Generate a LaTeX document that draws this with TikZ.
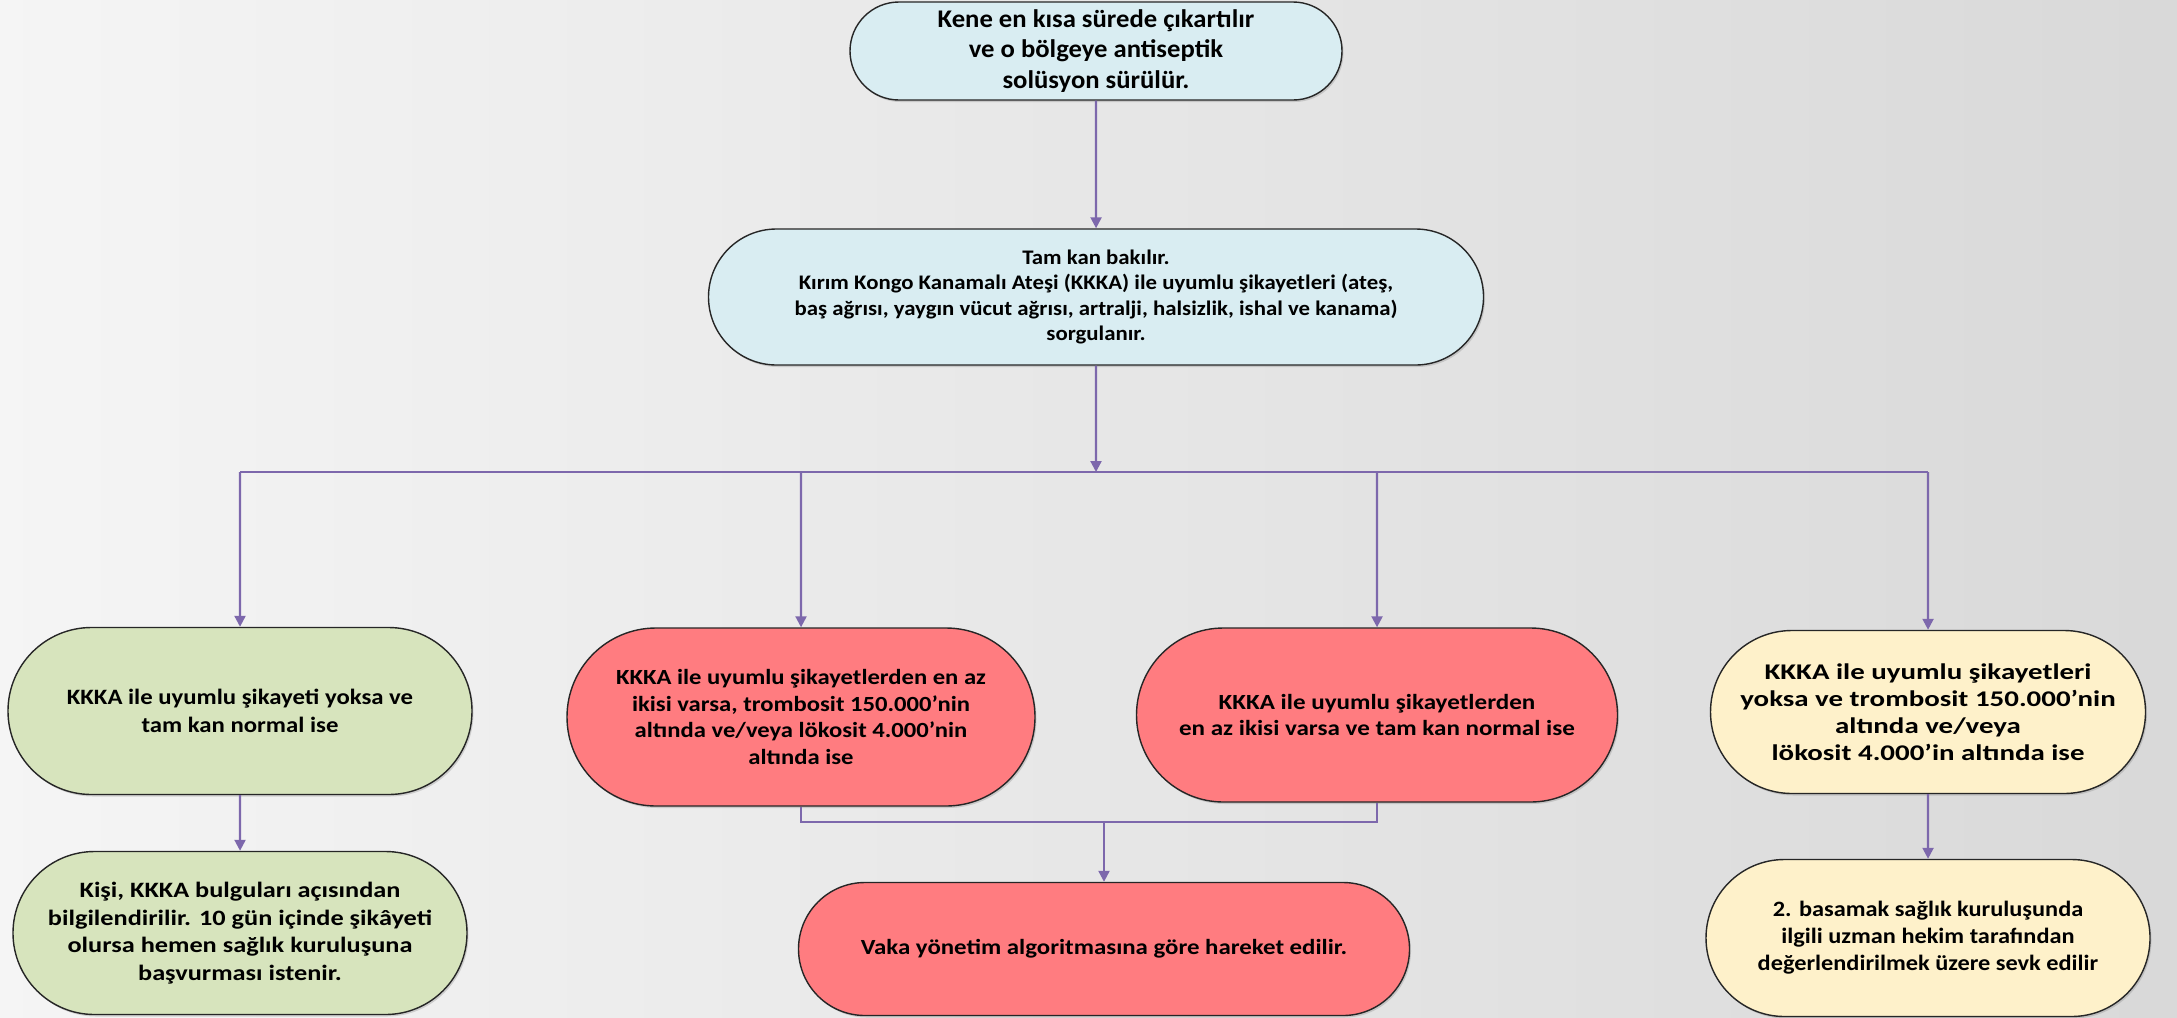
\documentclass[tikz,border=0pt]{standalone}
\usepackage{fontspec}
\setmainfont{Carlito}
\usetikzlibrary{shapes.misc,shadows,arrows.meta}

\definecolor{bluebox}{HTML}{D9EDF2}
\definecolor{greenbox}{HTML}{D7E4BD}
\definecolor{redbox}{HTML}{FF7C80}
\definecolor{yellowbox}{HTML}{FEF1CA}
\definecolor{linkcol}{HTML}{7D68AC}

\tikzset{
  term/.style={rounded rectangle, draw=black!85, line width=1.4bp, align=center,
    inner sep=0pt,
    drop shadow={shadow xshift=1.5bp, shadow yshift=-2bp, opacity=.3}},
  yazi/.style n args={3}{font=\bfseries\addfontfeatures{FakeStretch=#3}\fontsize{#1}{#2}\selectfont},
  link/.style={draw=linkcol, line width=2.2bp},
  arr/.style={link, -{Triangle[length=11bp,width=11bp]}}
}

\begin{document}
\begin{tikzpicture}[x=1bp, y=-1bp]
    \useasboundingbox (0,0) rectangle (2177,1017);
    \shade[left color=black!4, right color=black!15] (0,0) rectangle (2177,1017);

    % ust kutular
    \node[term, fill=bluebox, minimum width=492bp, minimum height=98bp,
          yazi={25.5}{31}{1.05}] (kene) at (1096,51)
        {Kene en kısa sürede çıkartılır\\ ve o bölgeye antiseptik\\ solüsyon sürülür.};
    \node[term, fill=bluebox, minimum width=775bp, minimum height=136bp,
          yazi={20.8}{25.4}{1.1}] (tamkan) at (1096,297)
        {Tam kan bakılır.\\ Kırım Kongo Kanamalı Ateşi (KKKA) ile uyumlu şikayetleri (ateş,\\
         baş ağrısı, yaygın vücut ağrısı, artralji, halsizlik, ishal ve kanama)\\ sorgulanır.};

    % orta sira
    \node[term, fill=greenbox, minimum width=464bp, minimum height=167bp,
          yazi={22}{28}{1.13}] (yok) at (240,711)
        {KKKA ile uyumlu şikayeti yoksa ve\\ tam kan normal ise};
    \node[term, fill=redbox, minimum width=468bp, minimum height=178bp,
          yazi={21.7}{26.5}{1.14}] (ikitrom) at (801,717)
        {KKKA ile uyumlu şikayetlerden en az\\ ikisi varsa, trombosit 150.000’nin\\
         altında ve/veya lökosit 4.000’nin\\ altında ise};
    \node[term, fill=redbox, minimum width=481bp, minimum height=174bp,
          yazi={21.7}{26.5}{1.16}] (ikinormal) at (1377,715)
        {KKKA ile uyumlu şikayetlerden\\ en az ikisi varsa ve tam kan normal ise};
    \node[term, fill=yellowbox, minimum width=435bp, minimum height=163bp,
          yazi={22.5}{27}{1.29}] (yoktrom) at (1928,712)
        {KKKA ile uyumlu şikayetleri\\ yoksa ve trombosit 150.000’nin\\
         altında ve/veya\\ lökosit 4.000’in altında ise};

    % alt sira
    \node[term, fill=greenbox, minimum width=454bp, minimum height=163bp,
          yazi={22}{27.8}{1.2}] (bilgi) at (240,933)
        {Kişi, KKKA bulguları açısından\\ bilgilendirilir. 10 gün içinde şikâyeti\\
         olursa hemen sağlık kuruluşuna\\ başvurması istenir.};
    \node[term, fill=redbox, minimum width=611bp, minimum height=133bp,
          yazi={21.7}{26.5}{1.15}] (vaka) at (1104,949)
        {Vaka yönetim algoritmasına göre hareket edilir.};
    \node[term, fill=yellowbox, minimum width=444bp, minimum height=157bp,
          yazi={22}{27}{1.11}] (sevk) at (1928,938)
        {2. basamak sağlık kuruluşunda\\ ilgili uzman hekim tarafından\\
         değerlendirilmek üzere sevk edilir};

    % baglantilar
    \coordinate (bus) at (1096,472);
    \coordinate (birles) at (1104,822);
    \draw[arr] (kene) -- (tamkan);
    \draw[arr] (tamkan) -- (bus);
    \draw[link] (yok.north |- bus) -- (yoktrom.north |- bus);
    \foreach \n in {yok,ikitrom,ikinormal,yoktrom}
        \draw[arr] (\n.north |- bus) -- (\n);
    \draw[arr] (yok) -- (bilgi);
    \draw[arr] (yoktrom) -- (sevk);
    \draw[link] (ikitrom.south) |- (birles) -| (ikinormal.south);
    \draw[arr] (birles) -- (birles |- vaka.north);
\end{tikzpicture}
\end{document}
